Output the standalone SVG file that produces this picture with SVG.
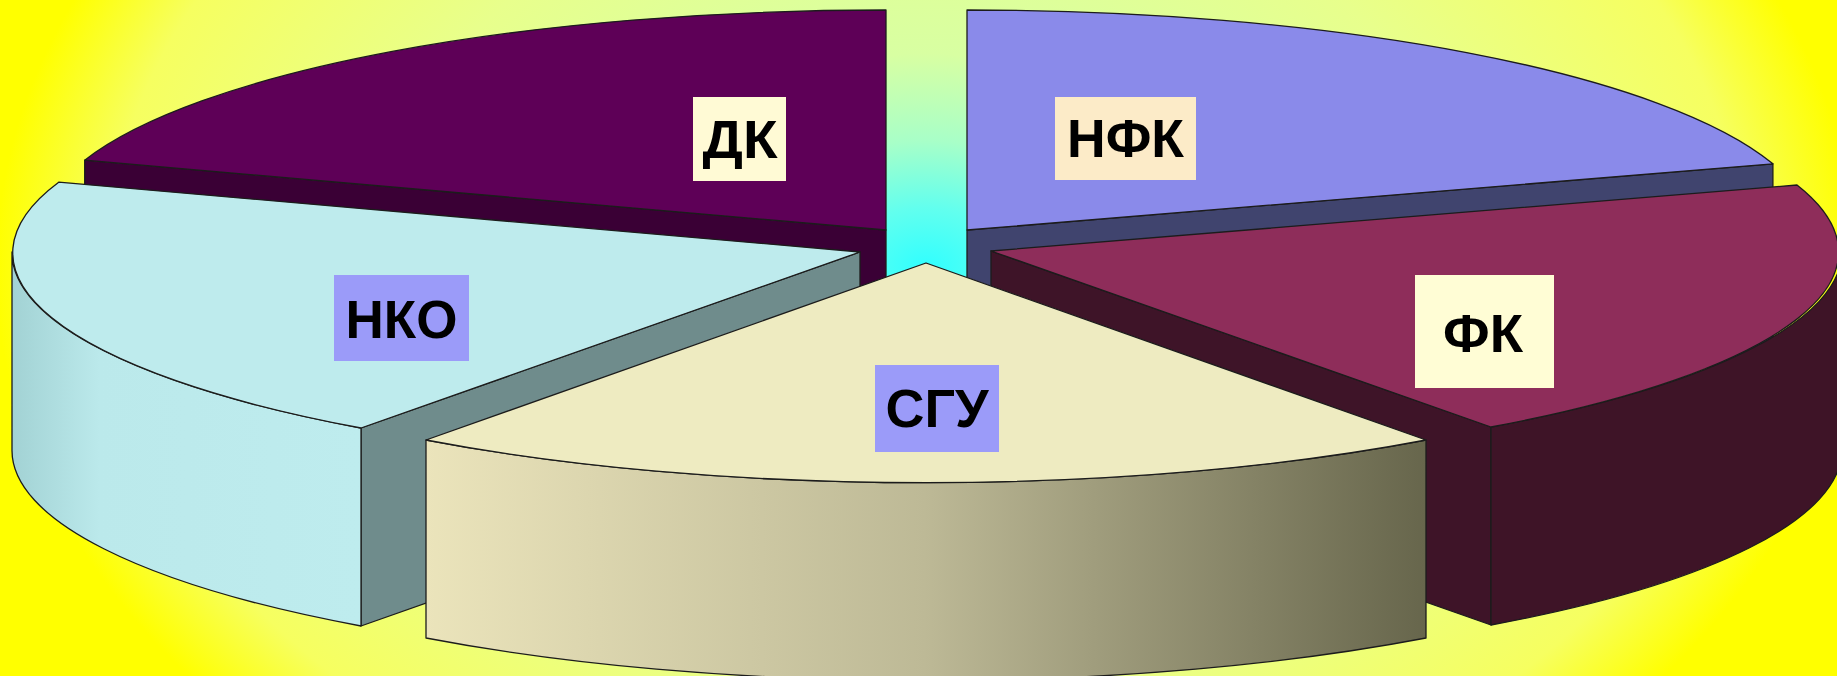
<svg xmlns="http://www.w3.org/2000/svg" width="1837" height="676" viewBox="0 0 1837 676">
<defs>
<radialGradient id="bg" gradientUnits="userSpaceOnUse" cx="926" cy="268" r="930" gradientTransform="translate(926 268) scale(1 0.72) translate(-926 -268)">
<stop offset="0" stop-color="#30FFFF"/>
<stop offset="0.09" stop-color="#62FFEE"/>
<stop offset="0.19" stop-color="#A8FFC8"/>
<stop offset="0.32" stop-color="#D8FFA2"/>
<stop offset="0.6" stop-color="#E8FF8C"/>
<stop offset="0.88" stop-color="#F6FF60"/>
<stop offset="1" stop-color="#FFFF00"/>
</radialGradient>
<linearGradient id="sguSide" gradientUnits="userSpaceOnUse" x1="425" y1="0" x2="1425" y2="0">
<stop offset="0" stop-color="#EBE4BB"/>
<stop offset="0.5" stop-color="#BDB996"/>
<stop offset="1" stop-color="#67664C"/>
</linearGradient>
<linearGradient id="nkoSide" gradientUnits="userSpaceOnUse" x1="12" y1="0" x2="361" y2="0">
<stop offset="0" stop-color="#A2D2D4"/>
<stop offset="0.25" stop-color="#BBE9EB"/>
<stop offset="1" stop-color="#BEECEE"/>
</linearGradient>
<style>
.edge{stroke:#1c1c1c;stroke-width:1.3;stroke-linejoin:round}
.lbl{font-family:"Liberation Sans",Arial,sans-serif;font-weight:bold;font-size:54px;fill:#000;text-anchor:middle}
</style>
</defs>
<rect x="0" y="0" width="1837" height="676" fill="url(#bg)"/>

<g id="slice-dk">
<path class="edge" fill="#3A0035" d="M886,230 L84.7,160.2 L84.7,358.2 L886,428 Z"/>
<path class="edge" fill="#5E0057" d="M886,230 L84.7,160.2 A845,220 0 0 1 886,10 Z"/>
</g>

<g id="slice-nfk">
<path class="edge" fill="#40446E" d="M967,230 L1772.9,163.8 L1772.9,361.8 L967,428 Z"/>
<path class="edge" fill="#8A8AEA" d="M967,230 L967,10 A845,220 0 0 1 1772.9,163.8 Z"/>
</g>

<g id="slice-nko">
<path class="edge" fill="#6F8C8C" d="M860,252 L361,428 L361,626 L860,450 Z"/>
<path class="edge" fill="url(#nkoSide)" d="M361,428 A848,217 0 0 1 12,252 L12,450 A848,217 0 0 0 361,626 Z"/>
<path class="edge" fill="#BEEBED" d="M860,252 L58.7,182.2 A848,217 0 0 0 361,428 Z"/>
</g>

<g id="slice-fk">
<path class="edge" fill="#3E1428" d="M991,251 L1491,427 L1491,625 L991,449 Z"/>
<path class="edge" fill="#3E1427" d="M1491,427 A851,217 0 0 0 1842,251 L1842,449 A851,217 0 0 1 1491,625 Z"/>
<path class="edge" fill="#8E2D5A" d="M991,251 L1797,185 A851,217 0 0 1 1491,427 Z"/>
</g>

<g id="slice-sgu">
<path class="edge" fill="url(#sguSide)" d="M426,440 A845,220 0 0 0 1426,440 L1426,638 A845,220 0 0 1 426,638 Z"/>
<path class="edge" fill="#EEEBC1" d="M926,263 L1426,440 A845,220 0 0 1 426,440 Z"/>
</g>

<g id="label-dk">
<rect x="693" y="97" width="93" height="84" fill="#FFFAD5"/>
<text class="lbl" x="740" y="158" textLength="75" lengthAdjust="spacingAndGlyphs">ДК</text>
</g>
<g id="label-nfk">
<rect x="1055" y="97" width="141" height="83" fill="#FCEBC8"/>
<text class="lbl" x="1125.5" y="157" textLength="117" lengthAdjust="spacingAndGlyphs">НФК</text>
</g>
<g id="label-nko">
<rect x="334" y="275" width="135" height="86" fill="#9B9BF9"/>
<text class="lbl" x="401.5" y="338" textLength="112" lengthAdjust="spacingAndGlyphs">НКО</text>
</g>
<g id="label-fk">
<rect x="1415" y="275" width="139" height="113" fill="#FFFDD5"/>
<text class="lbl" x="1483" y="352" textLength="80" lengthAdjust="spacingAndGlyphs">ФК</text>
</g>
<g id="label-sgu">
<rect x="875" y="365" width="124" height="87" fill="#9B9BF9"/>
<text class="lbl" x="937" y="427" textLength="103" lengthAdjust="spacingAndGlyphs">СГУ</text>
</g>
</svg>
